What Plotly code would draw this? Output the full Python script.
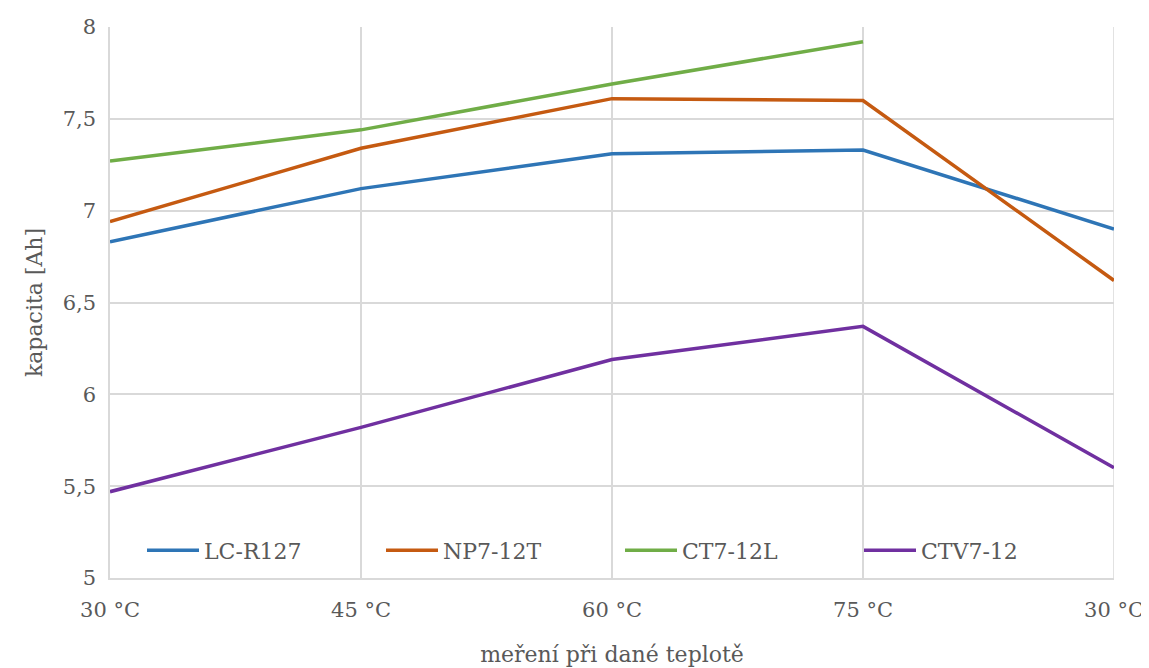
import plotly.graph_objects as go

categories = ["30 °C", "45 °C", "60 °C", "75 °C", "30 °C"]
series_names = ["LC-R127", "NP7-12T", "CT7-12L", "CTV7-12"]
lc_r127 = [6.83, 7.12, 7.31, 7.33, 6.90]
np7_12t = [6.94, 7.34, 7.61, 7.60, 6.62]
ct7_12l = [7.27, 7.44, 7.69, 7.92, None]
ctv7_12 = [5.47, 5.82, 6.19, 6.37, 5.60]
y_ticks = [5, 5.5, 6, 6.5, 7, 7.5, 8]

colors = ["#2E75B6", "#C55A11", "#70AD47", "#7030A0"]
values = [lc_r127, np7_12t, ct7_12l, ctv7_12]

FONT = "DejaVu Serif"
TXT = "#595959"
OFF = 8  # body margin of the page
W, H = 1149 - OFF, 668 - OFF
L, T = 110 - OFF, 27 - OFF
R = W - (1114 - OFF)
B = H - (578 - OFF)
pw = W - L - R

xs = list(range(len(categories)))
fig = go.Figure()
for name, vals, col in zip(series_names, values, colors):
    fig.add_trace(go.Scatter(x=xs, y=vals, mode="lines", name=name,
                             line=dict(color=col, width=3.5)))

fig.update_layout(
    width=W, height=H,
    margin=dict(l=L, r=R, t=T, b=B, autoexpand=False),
    paper_bgcolor="white", plot_bgcolor="white",
    separators=", ",
    showlegend=True,
    font=dict(family=FONT, size=21, color=TXT),
    legend=dict(orientation="h", x=(142 - 110) / pw, xanchor="left", y=0.05, yanchor="middle",
                bgcolor="rgba(0,0,0,0)", font=dict(family=FONT, size=22, color=TXT),
                itemwidth=52, entrywidth=172, entrywidthmode="pixels", tracegroupgap=0),
    xaxis=dict(range=[0, 4], tickvals=xs, ticktext=categories, showgrid=True,
               gridcolor="#D9D9D9", gridwidth=1.5, zeroline=False, automargin=False,
               showline=True, linecolor="#D9D9D9", linewidth=1.5, ticks="",
               tickfont=dict(family=FONT, size=21, color=TXT), ticklabelstandoff=12,
               title=dict(text="meření při dané teplotě", font=dict(family=FONT, size=22, color=TXT), standoff=26)),
    yaxis=dict(range=[5, 8], tickvals=y_ticks, tickformat=".1~f", showgrid=True,
               gridcolor="#D9D9D9", gridwidth=1.5, zeroline=False, automargin=False,
               showline=True, linecolor="#D9D9D9", linewidth=1.5, ticks="",
               tickfont=dict(family=FONT, size=21, color=TXT), ticklabelstandoff=8,
               title=dict(text="kapacita [Ah]", font=dict(family=FONT, size=22, color=TXT), standoff=14)),
)
fig.add_shape(type="line", xref="x", yref="paper", x0=4, x1=4, y0=0, y1=1,
              line=dict(color="#D9D9D9", width=1.5), layer="below")

fig.write_html("out.html")
